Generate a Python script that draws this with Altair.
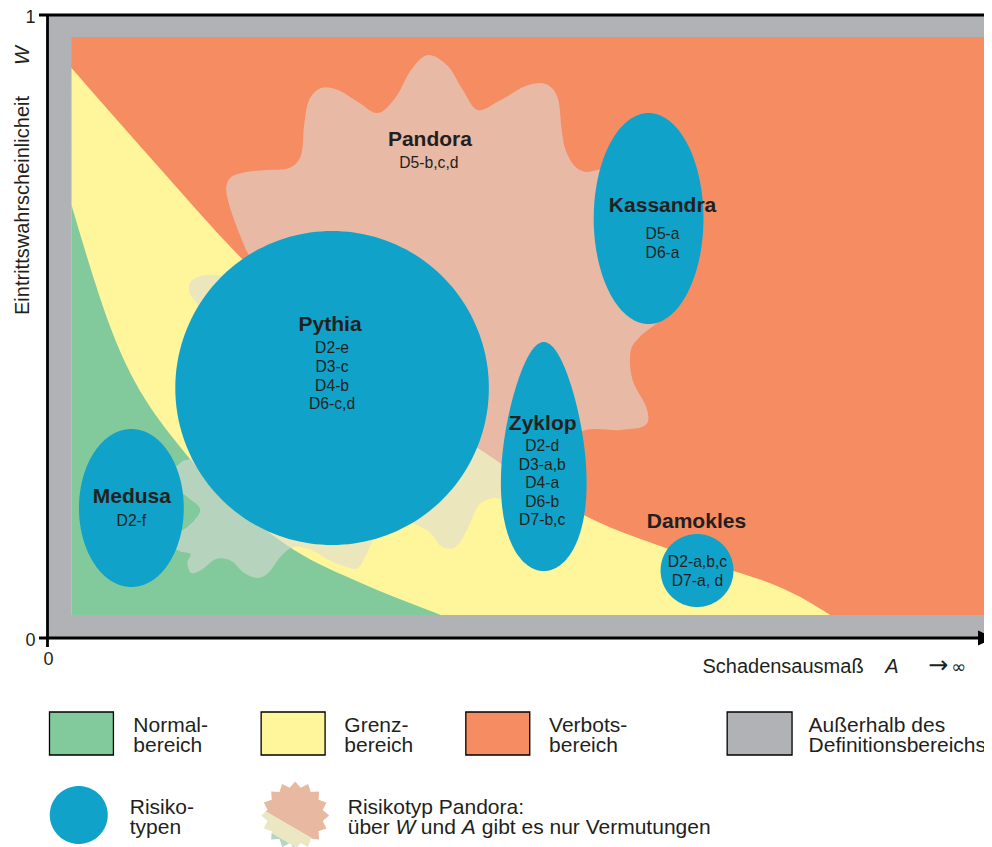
import altair as alt
import numpy as np
import pandas as pd

# ---------------- style ----------------
FONT = "Liberation Sans"
INK = "#231F20"
C_GRAY, C_ORANGE, C_YELLOW, C_GREEN, C_BLUE = "#B1B2B5", "#F58C62", "#FFF59B", "#82C99C", "#10A2C9"
C_PANDORA, PANDORA_OPACITY = "#DEDAD6", 0.574
C_STAR = ["#E8B9A0", "#ECE7C3", "#B7D4C2"]

# ---------------- data (A = Schadensausmass, W = Eintrittswahrscheinlichkeit, 0..1) ----------------
DEF_A, DEF_W = [0.0, 1.0], [0.0, 1.0]              # outside definition range (gray frame)
INNER_A, INNER_W = [0.0254, 1.0], [0.0369, 0.9647]  # definition range (Verbotsbereich fills it)

GRENZ_A = [0.0254, 0.1205, 0.2051, 0.3319, 0.4588, 0.5677, 0.6808, 0.7971, 0.8288]
GRENZ_W = [0.9149, 0.7512, 0.6099, 0.4382, 0.3018, 0.1974, 0.1300, 0.0658, 0.0369]

NORMAL_A = [0.0254, 0.0677, 0.1491, 0.2051, 0.2611, 0.3319, 0.4028, 0.4165]
NORMAL_W = [0.6950, 0.4944, 0.2905, 0.2055, 0.1412, 0.0883, 0.0449, 0.0369]

PANDORA_A = [0.4028, 0.4239, 0.4398, 0.4556, 0.4799, 0.5063, 0.5275, 0.5402, 0.5444, 0.5486,
             0.5581, 0.5698, 0.5825, 0.5983, 0.6332, 0.6702, 0.6543, 0.6279, 0.6173, 0.6195,
             0.6343, 0.6332, 0.6068, 0.5645, 0.5381, 0.4852, 0.4715, 0.4567, 0.4450, 0.4323,
             0.4165, 0.4017, 0.3689, 0.3478, 0.3372, 0.3288, 0.3161, 0.2981, 0.2791, 0.2611,
             0.2474, 0.2347, 0.2230, 0.2082, 0.1945, 0.1787, 0.1628, 0.1522, 0.1480, 0.1512,
             0.1395, 0.1258, 0.1480, 0.1617, 0.1480, 0.1258, 0.1417, 0.1543, 0.1628, 0.1660,
             0.1607, 0.1501, 0.1533, 0.1681, 0.1882, 0.2030, 0.2157, 0.2093, 0.2008, 0.1924,
             0.1892, 0.1945, 0.2104, 0.2315, 0.2558, 0.2685, 0.2717, 0.2770, 0.2897, 0.3076,
             0.3288, 0.3499, 0.3689, 0.3848]
PANDORA_W = [0.9358, 0.9181, 0.8796, 0.8475, 0.8635, 0.8860, 0.8892, 0.8668, 0.8154, 0.7833,
             0.7576, 0.7480, 0.7512, 0.7512, 0.7030, 0.6148, 0.5233, 0.4847, 0.4591, 0.4141,
             0.3692, 0.3419, 0.3339, 0.3307, 0.2777, 0.2279, 0.2247, 0.2135, 0.1766, 0.1461,
             0.1477, 0.1734, 0.1894, 0.1637, 0.1332, 0.1124, 0.1140, 0.1252, 0.1412, 0.1461,
             0.1316, 0.1059, 0.0963, 0.1043, 0.1236, 0.1268, 0.1091, 0.1043, 0.1204, 0.1348,
             0.1396, 0.1573, 0.1782, 0.2055, 0.2263, 0.2536, 0.2825, 0.2986, 0.3981, 0.4944,
             0.5297, 0.5554, 0.5746, 0.5827, 0.5811, 0.5875, 0.6035, 0.6260, 0.6581, 0.6950,
             0.7223, 0.7400, 0.7480, 0.7512, 0.7544, 0.7753, 0.8234, 0.8635, 0.8828, 0.8796,
             0.8603, 0.8427, 0.8684, 0.9117]

RISK_NAME = ["Pythia", "Medusa", "Kassandra", "Zyklop", "Damokles"]
RISK_CA = [0.3013, 0.0888, 0.6364, 0.5254, 0.6877]
RISK_CW = [0.4013, 0.2087, 0.6733, 0.2913, 0.1083]
RISK_RA = [0.1660, 0.0555, 0.0581, 0.0440, 0.0386]
RISK_RW = [0.2520, 0.1268, 0.1693, 0.1838, 0.0586]
RISK_EGG = [0.0, 0.0, 0.0, 0.26, 0.0]

LABEL_TEXT = ["Pandora", "Kassandra", "Pythia", "Zyklop", "Damokles", "Medusa"]
LABEL_A = [0.4049, 0.6512, 0.2992, 0.5243, 0.6871, 0.0893]
LABEL_W = [0.7897, 0.6838, 0.4928, 0.3339, 0.1766, 0.2167]

CODE_TEXT = ["D5-b,c,d", "D5-a", "D6-a", "D2-e", "D3-c", "D4-b", "D6-c,d",
             "D2-d", "D3-a,b", "D4-a", "D6-b", "D7-b,c", "D2-a,b,c", "D7-a, d", "D2-f"]
CODE_A = [0.4038, 0.6512, 0.6512, 0.3013, 0.3013, 0.3013, 0.3013,
          0.5238, 0.5238, 0.5238, 0.5238, 0.5238, 0.6882, 0.6882, 0.0888]
CODE_W = [0.7544, 0.6404, 0.6100, 0.4575, 0.4270, 0.3965, 0.3676,
          0.3002, 0.2697, 0.2408, 0.2103, 0.1814, 0.1140, 0.0835, 0.1798]

# legend
AREA_KEY = ["Normalbereich", "Grenzbereich", "Verbotsbereich", "Außerhalb"]
AREA_COLOR = [C_GREEN, C_YELLOW, C_ORANGE, C_GRAY]
SWATCH_A = [0.0021, 0.2262, 0.4429, 0.7196]
SWATCH_A2 = [0.0698, 0.2939, 0.5106, 0.7883]
SWATCH_W, SWATCH_W2 = -0.1188, -0.1878

LEG_TEXT = ["Normal-", "bereich", "Grenz-", "bereich", "Verbots-", "bereich",
            "Außerhalb des", "Definitionsbereichs", "Risiko-", "typen",
            "Risikotyp Pandora:", "über", "und", "gibt es nur Vermutungen"]
LEG_A = [0.0909, 0.0909, 0.3143, 0.3143, 0.5310, 0.5310, 0.8058, 0.8058,
         0.0871, 0.0871, 0.3179, 0.3179, 0.3953, 0.4598]
LEG_W = [-0.1509, -0.1830, -0.1509, -0.1830, -0.1509, -0.1830, -0.1509, -0.1830,
         -0.2825, -0.3146, -0.2825, -0.3146, -0.3146, -0.3146]
LEG_ITALIC_TEXT = ["W", "A"]
LEG_ITALIC_A = [0.3684, 0.4387]
LEG_ITALIC_W = [-0.3146, -0.3146]

LEG_CIRCLE = [0.0331, -0.2841, 0.0307, 0.0465]          # center A, W, radius A, W
LEG_STAR = [0.2622, -0.2849, 0.0359, 0.0546, 16, 0.83]  # center A, W, radius A, W, spikes, inner ratio
STAR_CUT1 = [0.2336, -0.2809]   # point on pink / beige border
STAR_CUT2 = [0.2262, -0.3034]   # point on beige / green border
STAR_DIR = [0.04545, -0.04013]  # border direction

# axes
AXIS_A = [0.0, -0.009, -0.009]
AXIS_A2 = [0.0, 1.0, 0.9852]
AXIS_W = [-0.0144, 1.0, 0.0]
AXIS_W2 = [1.0, 1.0, 0.0]
ARROW_A = [0.9852, 1.0021, 0.9852]
ARROW_W = [0.012, 0.0, -0.012]

NUM_TEXT = ["1", "0"]
NUM_A = [-0.0127, -0.0127]
NUM_W = [0.9872, -0.0128]
NUM0_A, NUM0_W = [0.0011], [-0.0433]

XT_TEXT, XT_A, XT_W = ["Schadensausmaß"], [0.6934], [-0.0562]
XT_IT_TEXT, XT_IT_A = ["A"], [0.8869]
XT_ARROW_TEXT, XT_ARROW_A = ["→"], [0.9326]
XT_INF_TEXT, XT_INF_A = ["∞"], [0.9568]
YT_TEXT, YT_A, YT_W = ["Eintrittswahrscheinlicheit"], [-0.0201], [0.5185]
YT_IT_TEXT, YT_IT_W = ["W"], [0.9197]

# ---------------- helpers ----------------
XS = alt.Scale(domain=[0, 1], range=[39.5, 984], nice=False, zero=False)
YS = alt.Scale(domain=[0, 1], range=[630, 7], nice=False, zero=False)
AREA_SCALE = alt.Scale(domain=AREA_KEY, range=AREA_COLOR)


def enc_xy():
    return dict(x=alt.X("A:Q", scale=XS, axis=None), y=alt.Y("W:Q", scale=YS, axis=None))


def poly_layer(df, fill, opacity=1.0, interp="linear-closed", group=None):
    enc = enc_xy()
    enc["order"] = alt.Order("i:Q")
    if group:
        enc["detail"] = alt.Detail(f"{group}:N")
    return alt.Chart(df).mark_line(interpolate=interp, fill=fill, fillOpacity=opacity,
                                   stroke=fill, strokeOpacity=0, strokeWidth=0).encode(**enc)


def text_layer(texts, a, w, size, weight="normal", style="normal", align="center", angle=0, font=FONT):
    df = pd.DataFrame({"A": a, "W": w, "t": texts})
    return alt.Chart(df).mark_text(font=font, fontSize=size, fontWeight=weight, fontStyle=style,
                                   align=align, baseline="alphabetic", angle=angle,
                                   color=INK).encode(**enc_xy(), text="t:N")


def clip(poly, p0, d, keep_positive):
    def side(p):
        v = d[0] * (p[1] - p0[1]) - d[1] * (p[0] - p0[0])
        return v if keep_positive else -v
    out = []
    for k in range(len(poly)):
        cur, prev = poly[k], poly[k - 1]
        sc, sp = side(cur), side(prev)
        if sc >= 0:
            if sp < 0:
                t = sp / (sp - sc)
                out.append((prev[0] + t * (cur[0] - prev[0]), prev[1] + t * (cur[1] - prev[1])))
            out.append(cur)
        elif sp >= 0:
            t = sp / (sp - sc)
            out.append((prev[0] + t * (cur[0] - prev[0]), prev[1] + t * (cur[1] - prev[1])))
    return out


# ---------------- layers ----------------
frame_df = pd.DataFrame({"A": [DEF_A[0], INNER_A[0]], "A2": [DEF_A[1], INNER_A[1]],
                         "W": [DEF_W[0], INNER_W[0]], "W2": [DEF_W[1], INNER_W[1]],
                         "k": ["Außerhalb", "Verbotsbereich"]})
frame = alt.Chart(frame_df).mark_rect().encode(
    **enc_xy(), x2="A2:Q", y2="W2:Q",
    color=alt.Color("k:N", scale=AREA_SCALE, legend=None))

grenz = alt.Chart(pd.DataFrame({"A": GRENZ_A, "W": GRENZ_W, "W0": INNER_W[0]})).mark_area(
    color=C_YELLOW, interpolate="monotone").encode(**enc_xy(), y2="W0:Q")
normal = alt.Chart(pd.DataFrame({"A": NORMAL_A, "W": NORMAL_W, "W0": INNER_W[0]})).mark_area(
    color=C_GREEN, interpolate="monotone").encode(**enc_xy(), y2="W0:Q")

pandora = poly_layer(pd.DataFrame({"A": PANDORA_A, "W": PANDORA_W, "i": range(len(PANDORA_A))}),
                     C_PANDORA, PANDORA_OPACITY, interp="cardinal-closed")

risk_rows = []
t = np.linspace(0, 2 * np.pi, 180, endpoint=False)
for name, ca, cw, ra, rw, k in zip(RISK_NAME, RISK_CA, RISK_CW, RISK_RA, RISK_RW, RISK_EGG):
    s = np.sin(t)
    risk_rows.append(pd.DataFrame({"A": ca + ra * np.cos(t) * (1 - k * s), "W": cw + rw * s,
                                   "i": np.arange(len(t)), "name": name}))
ca, cw, ra, rw = LEG_CIRCLE
risk_rows.append(pd.DataFrame({"A": ca + ra * np.cos(t), "W": cw + rw * np.sin(t),
                               "i": np.arange(len(t)), "name": "legend"}))
risks = poly_layer(pd.concat(risk_rows), C_BLUE, group="name")

# legend star split in three colour bands
sa, sw, sra, srw, nsp, inner = LEG_STAR
ang = np.pi / 2 + np.arange(2 * nsp) * np.pi / nsp
rad = np.where(np.arange(2 * nsp) % 2 == 0, 1.0, inner)
star = list(zip(sa + sra * rad * np.cos(ang), sw + srw * rad * np.sin(ang)))
pieces = [clip(star, STAR_CUT1, STAR_DIR, True),
          clip(clip(star, STAR_CUT1, STAR_DIR, False), STAR_CUT2, STAR_DIR, True),
          clip(star, STAR_CUT2, STAR_DIR, False)]
star_layers = [poly_layer(pd.DataFrame({"A": [p[0] for p in pc], "W": [p[1] for p in pc],
                                        "i": range(len(pc))}), col)
               for pc, col in zip(pieces, C_STAR) if len(pc) > 2]

swatches = alt.Chart(pd.DataFrame({"A": SWATCH_A, "A2": SWATCH_A2, "W": SWATCH_W, "W2": SWATCH_W2,
                                   "k": AREA_KEY})).mark_rect(stroke="#000000", strokeWidth=1.3).encode(
    **enc_xy(), x2="A2:Q", y2="W2:Q",
    color=alt.Color("k:N", scale=AREA_SCALE, legend=None))

axes = alt.Chart(pd.DataFrame({"A": AXIS_A, "A2": AXIS_A2, "W": AXIS_W, "W2": AXIS_W2})).mark_rule(
    color="#000000", strokeWidth=2.8).encode(**enc_xy(), x2="A2:Q", y2="W2:Q")
arrow = poly_layer(pd.DataFrame({"A": ARROW_A, "W": ARROW_W, "i": range(3)}), "#000000")

texts = [
    text_layer(LABEL_TEXT, LABEL_A, LABEL_W, 21, weight="bold"),
    text_layer(CODE_TEXT, CODE_A, CODE_W, 15.7),
    text_layer(LEG_TEXT, LEG_A, LEG_W, 21, align="left"),
    text_layer(LEG_ITALIC_TEXT, LEG_ITALIC_A, LEG_ITALIC_W, 21, style="italic", align="left"),
    text_layer(NUM_TEXT, NUM_A, NUM_W, 18, align="right"),
    text_layer(["0"], NUM0_A, NUM0_W, 18),
    text_layer(XT_TEXT, XT_A, XT_W, 20, align="left"),
    text_layer(XT_IT_TEXT, XT_IT_A, XT_W, 20, style="italic", align="left"),
    text_layer(XT_ARROW_TEXT, XT_ARROW_A, XT_W, 24, align="left", font="DejaVu Sans"),
    text_layer(XT_INF_TEXT, XT_INF_A, XT_W, 18, align="left", font="DejaVu Sans"),
    text_layer(YT_TEXT, YT_A, YT_W, 20, align="left", angle=270),
    text_layer(YT_IT_TEXT, YT_A, YT_IT_W, 20, style="italic", align="left", angle=270),
]

chart = alt.layer(frame, grenz, normal, pandora, risks, swatches, *star_layers, axes, arrow, *texts).properties(
    width=976, height=839, padding=0, autosize=alt.AutoSizeParams(type="none")
).configure_view(strokeWidth=0)

chart.save("out.html", embed_options={"renderer": "svg", "actions": False})
